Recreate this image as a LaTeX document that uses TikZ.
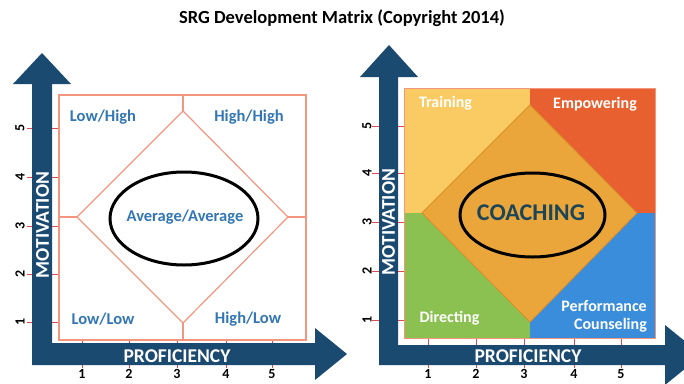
\documentclass[tikz,border=0pt]{standalone}
\usepackage{fontspec}
\setmainfont{Carlito}
\usetikzlibrary{shapes.geometric}
\definecolor{arrowblue}{RGB}{27,74,113}
\definecolor{salmon}{RGB}{243,150,128}
\definecolor{tickred}{RGB}{225,75,80}
\definecolor{labelblue}{RGB}{50,118,180}
\definecolor{cyellow}{RGB}{249,203,98}
\definecolor{corange}{RGB}{234,166,58}
\definecolor{corangeedge}{RGB}{215,140,40}
\definecolor{cred}{RGB}{233,96,48}
\definecolor{cgreen}{RGB}{139,193,80}
\definecolor{cblue}{RGB}{58,141,219}
\definecolor{coachtext}{RGB}{28,70,88}
\tikzset{
  arrowshape/.style={fill=arrowblue, draw=none},
  gridline/.style={draw=salmon, line width=1.2pt},
  tickline/.style={draw=tickred, line width=1pt},
  ticklabel/.style={font=\fontsize{14}{14}\selectfont\bfseries, text=black, inner sep=0pt},
  quadlabel/.style={font=\fontsize{16.5}{18}\selectfont\bfseries, text=labelblue, inner sep=0pt},
  zonelabel/.style={font=\fontsize{16}{17}\selectfont\bfseries, text=white, inner sep=0pt},
  axislabel/.style={font=\fontsize{19.5}{20}\selectfont\bfseries, text=white, inner sep=0pt},
  ring/.style={ellipse, draw=black, line width=3pt, inner sep=0pt}
}
\begin{document}
\begin{tikzpicture}[x=1pt,y=-1pt]
\useasboundingbox (0,0) rectangle (684,383);
\clip (0,0) rectangle (684,383);

% title
\node[font=\fontsize{18.5}{20}\selectfont\bfseries, inner sep=0pt] (title) at (342,18) {SRG Development Matrix (Copyright 2014)};

% ================= LEFT PANEL =================
\foreach \y/\l in {322/1,274/2,226/3,177/4,128/5}{
  \draw[tickline] (27,\y) -- (59,\y);
  \node[ticklabel, rotate=90] (lyl\l) at (20,\y) {\l};
}
\foreach \x/\l in {82/1,129/2,177/3,226/4,272/5}{
  \draw[tickline] (\x,340) -- (\x,368);
  \node[ticklabel] (lxl\l) at (\x,374) {\l};
}
\fill[arrowshape] (32,365) -- (32,84) -- (13,84) -- (42,53) -- (71,84) -- (52,84) -- (52,343)
  -- (315,343) -- (315,328) -- (347,354) -- (315,380) -- (315,365) -- cycle;
\node[axislabel, rotate=90] (lmot) at (42.5,225) {MOTIVATION};
\node[axislabel] (lprof) at (177,356) {PROFICIENCY};

\draw[gridline] (59,95) rectangle (306,340);
\draw[gridline] (183,95) -- (183,111);
\draw[gridline] (183,340) -- (183,323);
\draw[gridline] (59,217) -- (77,217);
\draw[gridline] (306,217) -- (288,217);
\draw[gridline] (183,111) -- (288,217) -- (183,323) -- (77,217) -- cycle;

\node[quadlabel] (lowhigh) at (103,117) {Low/High};
\node[quadlabel] (highhigh) at (249,117) {High/High};
\node[quadlabel] (lowlow) at (103,319) {Low/Low};
\node[quadlabel] (highlow) at (248,319) {High/Low};
\node[ring, minimum width=148pt, minimum height=93pt] (lring) at (184,218.5) {};
\node[quadlabel] (avg) at (185,217) {Average/Average};

% ================= RIGHT PANEL =================
\foreach \y/\l in {320/1,271/2,222/3,173/4,126/5}{
  \draw[tickline] (372,\y) -- (404,\y);
  \node[ticklabel, rotate=90] (ryl\l) at (367,\y) {\l};
}
\foreach \x/\l in {428/1,476/2,524/3,574/4,621/5}{
  \draw[tickline] (\x,338) -- (\x,368);
  \node[ticklabel] (rxl\l) at (\x,374) {\l};
}
\fill[arrowshape] (379,365) -- (379,77) -- (360,77) -- (389,45) -- (418,77) -- (398,77) -- (398,345)
  -- (665,345) -- (665,325) -- (702,355) -- (665,385) -- (665,365) -- cycle;
\node[axislabel, rotate=90] (rmot) at (388.5,222) {MOTIVATION};
\node[axislabel] (rprof) at (528,356) {PROFICIENCY};

\fill[cyellow] (404,88) -- (530,88) -- (530,105) -- (422,213) -- (404,213) -- cycle;
\fill[cred] (530,88) -- (655,88) -- (655,213) -- (637,213) -- (530,105) -- cycle;
\fill[cgreen] (404,213) -- (422,213) -- (530,322) -- (530,338) -- (404,338) -- cycle;
\fill[cblue] (655,213) -- (637,213) -- (530,322) -- (530,338) -- (655,338) -- cycle;
\filldraw[fill=corange, draw=corangeedge, line width=0.8pt] (530,105) -- (637,213) -- (530,322) -- (422,213) -- cycle;
\draw[draw=salmon, line width=1pt] (404,88) rectangle (655,338);

\node[zonelabel] (training) at (445.5,103) {Training};
\node[zonelabel] (empower) at (595,104) {Empowering};
\node[zonelabel] (directing) at (449.5,318) {Directing};
\node[zonelabel, anchor=east] (perf) at (647,306) {Performance};
\node[zonelabel, anchor=east] (couns) at (647,325) {Counseling};
\node[ring, minimum width=145pt, minimum height=84pt] (rring) at (532.5,215) {};
\node[font=\fontsize{24}{26}\selectfont\bfseries, text=coachtext, inner sep=0pt] (coach) at (531,213) {COACHING};
\end{tikzpicture}
\end{document}
